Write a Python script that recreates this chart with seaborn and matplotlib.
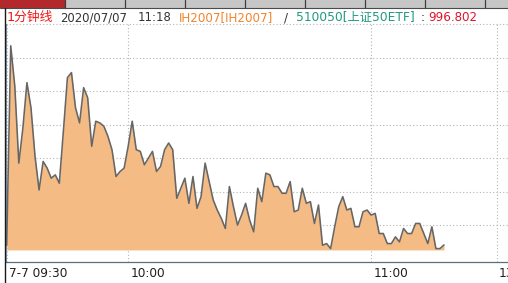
import numpy as np
import pandas as pd
import matplotlib
matplotlib.use('Agg')
import matplotlib.pyplot as plt
import matplotlib.transforms as mtransforms
from matplotlib.patches import Rectangle
from matplotlib.lines import Line2D
import seaborn as sns

# ---- data (1-minute ratio IH2007 / 510050, 09:30 .. 11:18) ----
values = [
    996.80, 997.99, 997.75, 997.29, 997.50, 997.77, 997.62, 997.33, 997.13, 997.30,
    997.26, 997.20, 997.22, 997.17, 997.48, 997.80, 997.83, 997.62, 997.53, 997.74,
    997.68, 997.39, 997.54, 997.53, 997.51, 997.45, 997.37, 997.21, 997.24, 997.26,
    997.39, 997.54, 997.37, 997.36, 997.28, 997.32, 997.36, 997.24, 997.27, 997.37,
    997.41, 997.37, 997.08, 997.14, 997.20, 997.05, 997.21, 997.02, 997.09, 997.29,
    997.18, 997.07, 997.01, 996.96, 996.90, 997.15, 997.03, 996.92, 996.98, 997.05,
    996.95, 996.88, 997.14, 997.06, 997.23, 997.22, 997.15, 997.15, 997.11, 997.11,
    997.18, 997.00, 997.01, 997.14, 997.05, 997.06, 996.93, 997.04, 996.80, 996.81,
    996.78, 996.91, 997.03, 997.09, 997.01, 997.02, 996.91, 996.91, 997.00, 997.01,
    996.98, 996.99, 996.87, 996.87, 996.81, 996.81, 996.85, 996.82, 996.90, 996.87,
    996.87, 996.93, 996.93, 996.87, 996.81, 996.91, 996.78, 996.78, 996.802,
]
fill_base = 996.772
tick_positions = [0, 30, 90, 121]
tick_labels = ['7-7 09:30', '10:00', '11:00', '13:00']
grid_levels = [996.92, 997.12, 997.32, 997.52, 997.72, 997.92, 998.12]
title_texts = ['1分钟线', '2020/07/07', '11:18', 'IH2007[IH2007]', '/',
               '510050[上证50ETF]', ':', '996.802']

# ---- style ----
sns.set_style('white')
plt.rcParams['font.family'] = ['DejaVu Sans', 'Noto Sans CJK SC']

W, H = 508, 283
fig = plt.figure(figsize=(W / 100, H / 100), dpi=100)
fig.patch.set_facecolor('white')

def fx(px):
    return px / W

def fy(py):
    return 1 - py / H

ax = fig.add_axes([fx(6), fy(262), fx(W - 6), (262 - 24) / H])
ax.set_facecolor('white')

df = pd.DataFrame({'minute': np.arange(len(values)), 'value': values})
ax.fill_between(df['minute'], df['value'], fill_base, color='#f4bb84', lw=0, zorder=2)
sns.lineplot(data=df, x='minute', y='value', ax=ax, color='#666666', lw=1.15, zorder=3)

ax.set_xlim(-0.17, 123.8)
ax.set_ylim(996.70, 998.12)

grid_kw = dict(color='#b4b4b4', lw=0.8, ls=(0, (1, 2)), zorder=1, clip_on=False)
for lvl in grid_levels:
    ax.axhline(lvl, **grid_kw)
for p in tick_positions:
    ax.axvline(p, **grid_kw)

for s in ['top', 'right']:
    ax.spines[s].set_visible(False)
ax.spines['left'].set_color('#7f9fb8')
ax.spines['left'].set_linewidth(0.7)
ax.spines['bottom'].set_color('#5a6f80')
ax.spines['bottom'].set_linewidth(0.9)

ax.set_xlabel('')
ax.set_ylabel('')
ax.set_yticks([])
ax.set_xticks(tick_positions)
ax.tick_params(axis='x', direction='out', length=15.5, width=0.8, color='#5a6f80',
               labelbottom=False)

lab_tr = mtransforms.blended_transform_factory(ax.transData, ax.transAxes) + \
    mtransforms.ScaledTranslation(2.3 / 100, -11.5 / 100, fig.dpi_scale_trans)
for p, lab in zip(tick_positions, tick_labels):
    ax.text(p, 0, lab, transform=lab_tr, ha='left', va='center', fontsize=8.7,
            color='#1e1e1e', clip_on=False)

# ---- top tab strip ----
fig.patches.append(Rectangle((0, fy(7.5)), 1, 7.5 / H, transform=fig.transFigure,
                             facecolor='#c6c6c6', edgecolor='none', zorder=0))
fig.patches.append(Rectangle((0, fy(7.5)), fx(65), 7.5 / H, transform=fig.transFigure,
                             facecolor='#b3282b', edgecolor='none', zorder=1))
for sx in [65, 125, 185, 245, 305, 365, 425, 485]:
    fig.add_artist(Line2D([fx(sx), fx(sx)], [fy(0), fy(7.5)], transform=fig.transFigure,
                          color='#3c3c3c', lw=0.9))
fig.add_artist(Line2D([0, 1], [fy(7.8), fy(7.8)], transform=fig.transFigure,
                      color='#4a4a4a', lw=0.8))
# left frame line
fig.add_artist(Line2D([fx(4.6), fx(4.6)], [fy(8), 0], transform=fig.transFigure,
                      color='#1a1a1a', lw=1.0))

# ---- title line ----
title_x = [6.7, 60, 138, 179, 284, 296, 421, 428]
title_colors = ['#f01414', '#333333', '#333333', '#f0852a', '#333333',
                '#1e9a7e', '#333333', '#e0142c']
title_sizes = [9.2, 8.4, 8.4, 8.6, 8.6, 8.8, 8.6, 8.6]
for t, x, c, fs in zip(title_texts, title_x, title_colors, title_sizes):
    fig.text(fx(x), fy(21.3), t, ha='left', va='baseline', fontsize=fs, color=c)

fig.savefig('out.png', dpi=100, facecolor='white')
